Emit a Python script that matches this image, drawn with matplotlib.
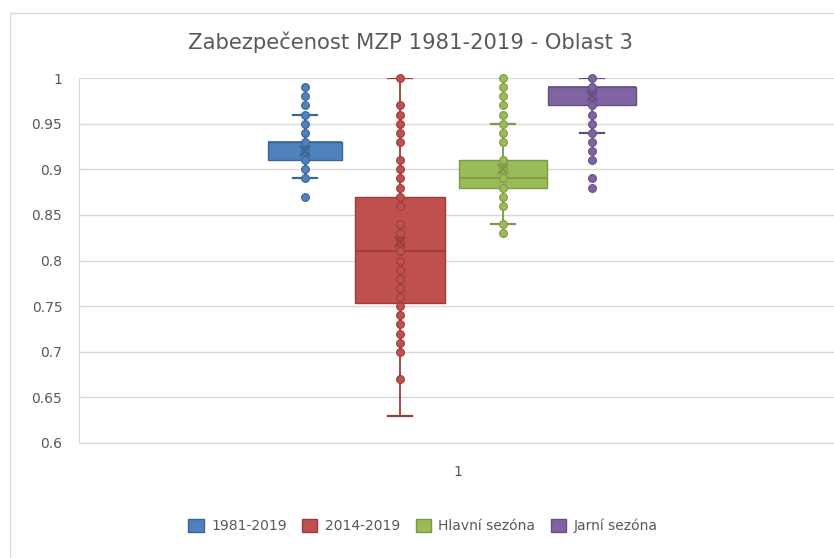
import matplotlib.pyplot as plt
from matplotlib.patches import Rectangle

# series names and colours
series = ["1981-2019", "2014-2019", "Hlavní sezóna", "Jarní sezóna"]
fill_colors = ["#4F81BD", "#C0504D", "#9BBB59", "#8064A2"]
edge_colors = ["#3B6596", "#9A3D3A", "#7D9A44", "#644E82"]

# box statistics
q1 = [0.91, 0.753, 0.88, 0.97]
medians = [0.93, 0.81, 0.89, 0.99]
q3 = [0.93, 0.87, 0.91, 0.99]
whisker_low = [0.89, 0.63, 0.84, 0.94]
whisker_high = [0.96, 1.00, 0.95, 1.00]
means = [0.92, 0.82, 0.90, 0.98]

# individual values shown as points
points_1981 = [0.99, 0.98, 0.97, 0.96, 0.95, 0.94, 0.93, 0.92, 0.91, 0.90, 0.89, 0.87]
points_2014 = [1.00, 0.97, 0.96, 0.95, 0.94, 0.93, 0.91, 0.90, 0.89, 0.88, 0.87, 0.86,
               0.84, 0.83, 0.82, 0.81, 0.80, 0.79, 0.78, 0.77, 0.76, 0.75, 0.74, 0.73,
               0.72, 0.71, 0.70, 0.67]
points_main = [1.00, 0.99, 0.98, 0.97, 0.96, 0.95, 0.94, 0.93, 0.91, 0.90, 0.89, 0.88,
               0.87, 0.86, 0.84, 0.83]
points_spring = [1.00, 0.99, 0.98, 0.97, 0.96, 0.95, 0.94, 0.93, 0.92, 0.91, 0.89, 0.88]
all_points = [points_1981, points_2014, points_main, points_spring]

y_ticks = [0.6, 0.65, 0.7, 0.75, 0.8, 0.85, 0.9, 0.95, 1.0]
y_tick_labels = ["0.6", "0.65", "0.7", "0.75", "0.8", "0.85", "0.9", "0.95", "1"]
category_label = "1"
title = "Zabezpečenost MZP 1981-2019 - Oblast 3"

plt.rcParams['font.family'] = ['DejaVu Sans']
text_color = "#595959"
grid_color = "#D9D9D9"

W, H = 834, 558
fig = plt.figure(figsize=(W / 100, H / 100), dpi=100)

# outer chart border (runs off the right and bottom edges)
fig.patches.append(Rectangle((10 / W, -0.1), 1, 1.1 - 13 / H, transform=fig.transFigure,
                             fill=False, edgecolor=grid_color, linewidth=1.0))

ax = fig.add_axes([79 / W, (H - 443) / H, 758 / W, 365 / H])
ax.set_xlim(0, 2)
ax.set_ylim(0.6, 1.0)

positions = [0.596, 0.847, 1.119, 1.354]
widths = [0.195, 0.235, 0.232, 0.232]

stats = []
for i, name in enumerate(series):
    stats.append(dict(label=name, q1=q1[i], med=medians[i], q3=q3[i],
                      whislo=whisker_low[i], whishi=whisker_high[i], mean=means[i]))

for i in range(len(series)):
    ec = edge_colors[i]
    ax.bxp([stats[i]], positions=[positions[i]], widths=[widths[i]],
           patch_artist=True, showfliers=False, showmeans=False,
           capwidths=[0.065],
           boxprops=dict(facecolor=fill_colors[i], edgecolor=ec, linewidth=1.0),
           medianprops=dict(color=ec, linewidth=1.2),
           whiskerprops=dict(color=ec, linewidth=1.3),
           capprops=dict(color=ec, linewidth=1.6),
           zorder=3)
    ax.plot([positions[i]] * len(all_points[i]), all_points[i], linestyle="none",
            marker="o", markersize=5.6, markerfacecolor=fill_colors[i],
            markeredgecolor=ec, markeredgewidth=0.8, zorder=4, clip_on=False)
    ax.plot([positions[i]], [means[i]], linestyle="none", marker="x",
            markersize=7, markeredgecolor=ec, markeredgewidth=1.6, zorder=5)

ax.set_yticks(y_ticks)
ax.set_yticklabels(y_tick_labels)
ax.set_xticks([1.0])
ax.set_xticklabels([category_label])
ax.tick_params(axis="both", length=0, colors=text_color, labelsize=10)
ax.tick_params(axis="y", pad=12)
ax.tick_params(axis="x", pad=16)
ax.grid(axis="y", color=grid_color, linewidth=1.0, zorder=0)
ax.set_axisbelow(True)
for side in ["top", "right"]:
    ax.spines[side].set_visible(False)
ax.spines["left"].set_color(grid_color)
ax.spines["bottom"].set_color(grid_color)

fig.text(410 / W, 1 - 42 / H, title, ha="center", va="center",
         fontsize=15.2, color=text_color)

handles = [Rectangle((0, 0), 1, 1, facecolor=fill_colors[i], edgecolor=edge_colors[i])
           for i in range(len(series))]
fig.legend(handles, series, loc="center", bbox_to_anchor=(423 / W, 1 - 526 / H),
           ncol=4, frameon=False, fontsize=10, labelcolor=text_color,
           handlelength=1.1, handleheight=1.1, handletextpad=0.55, columnspacing=1.1)

fig.savefig("out.png", dpi=100)
